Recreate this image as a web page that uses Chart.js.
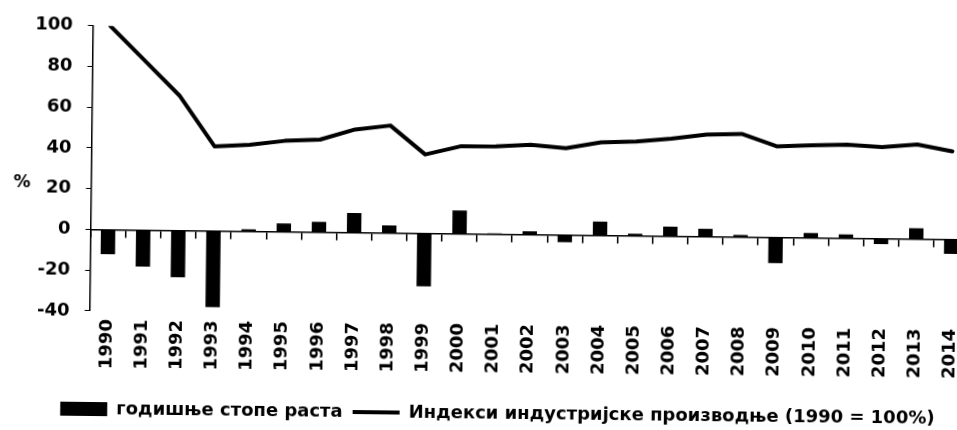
<!DOCTYPE html>
<html>
<head>
<meta charset="utf-8">
<script src="https://cdn.jsdelivr.net/npm/chart.js@4/dist/chart.umd.min.js"></script>
<style>
  html, body { margin: 0; padding: 0; background: #fff; overflow: hidden; width: 957px; height: 430px; }
  #wrap { position: relative; width: 981px; height: 430px; transform-origin: 92px 228px; transform: rotate(0.66deg); }
  #pct { position: absolute; left: 13px; top: 172px; font: bold 17px "DejaVu Sans", sans-serif; color: #000; }
</style>
</head>
<body>
<div id="wrap">
  <canvas id="chart" width="981" height="430"></canvas>
  <div id="pct">%</div>
</div>
<script>
// Years on the category axis
const years = ['1990', '1991', '1992', '1993', '1994', '1995', '1996', '1997', '1998', '1999',
               '2000', '2001', '2002', '2003', '2004', '2005', '2006', '2007', '2008', '2009',
               '2010', '2011', '2012', '2013', '2014'];

// Annual growth rates of industrial production, %
const growthRates = [-12, -18, -23, -37.5, 1, 4, 5, 9.5, 3.7, -26,
                     11.4, 0.4, 1.6, -3.6, 6.7, 1, 4.6, 3.8, 1, -12.7,
                     2.3, 1.8, -2.7, 5.2, -7.2];

// Index of industrial production, 1990 = 100
const productionIndex = [100, 83, 66, 41.5, 42.5, 44.6, 45.4, 50.6, 52.7, 38.7,
                         42.9, 43.1, 44, 42.6, 45.6, 46.3, 47.9, 50.1, 50.6, 44.7,
                         45.4, 45.9, 44.9, 46.4, 43.2];

// Value axis range and tick step
const yMin = -40;
const yMax = 100;
const yStep = 20;

const seriesNames = ['годишње стопе раста', 'Индекси индустријске производње (1990 = 100%)'];

Chart.defaults.font.family = '"DejaVu Sans", sans-serif';
Chart.defaults.font.weight = 'bold';
Chart.defaults.color = '#000';

new Chart(document.getElementById('chart'), {
  data: {
    labels: years,
    datasets: [
      {
        type: 'bar',
        label: seriesNames[0],
        data: growthRates,
        backgroundColor: '#000',
        borderWidth: 0,
        barPercentage: 0.41,
        categoryPercentage: 1,
        pointStyle: 'rect',
        order: 2
      },
      {
        type: 'line',
        label: seriesNames[1],
        data: productionIndex,
        borderColor: '#000',
        backgroundColor: '#000',
        borderWidth: 4,
        borderJoinStyle: 'round',
        borderCapStyle: 'round',
        pointRadius: 0,
        tension: 0,
        pointStyle: 'line',
        order: 1
      }
    ]
  },
  options: {
    responsive: false,
    animation: false,
    devicePixelRatio: 1,
    layout: { padding: { left: 18, right: 0, top: 23, bottom: 2 } },
    plugins: {
      legend: {
        position: 'bottom',
        labels: {
          usePointStyle: true,
          pointStyleWidth: 47,
          boxHeight: 14,
          padding: 10,
          font: { size: 18 },
          sort: (a, b) => a.datasetIndex - b.datasetIndex
        }
      },
      tooltip: { enabled: false }
    },
    scales: {
      x: {
        grid: { display: false, drawTicks: false },
        border: { display: false },
        ticks: { minRotation: 90, maxRotation: 90, autoSkip: false, padding: 8, font: { size: 18 } },
        afterFit(scale) { scale.height += 13; }
      },
      // horizontal axis line through zero with tick marks between the years
      zero: {
        type: 'category',
        axis: 'x',
        labels: years,
        position: { y: 0 },
        offset: true,
        grid: { drawOnChartArea: false, offset: true, color: '#000', tickLength: 7, lineWidth: 1.5 },
        border: { color: '#000', width: 1.5 },
        ticks: { display: false }
      },
      y: {
        min: yMin,
        max: yMax,
        ticks: { stepSize: yStep, padding: 15, font: { size: 18 } },
        grid: { drawOnChartArea: false, color: '#000', tickLength: 5 },
        border: { color: '#000', width: 1.5 }
      }
    }
  }
});
</script>
</body>
</html>
